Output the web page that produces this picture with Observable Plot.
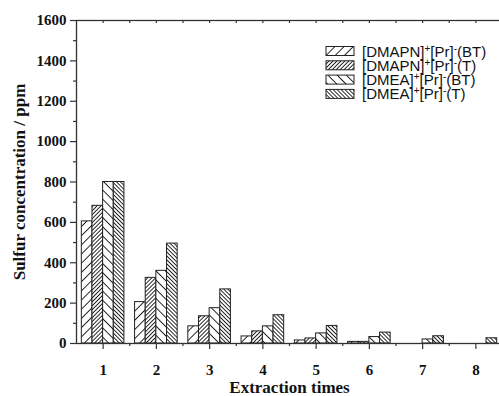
<!DOCTYPE html>
<html>
<head>
<meta charset="utf-8">
<script src="https://cdn.jsdelivr.net/npm/d3@7"></script>
<script src="https://cdn.jsdelivr.net/npm/@observablehq/plot@0.6"></script>
<style>
  html, body { margin: 0; padding: 0; background: #fff; overflow: hidden; }
  #chart { width: 499px; height: 396px; overflow: hidden; }
  #chart svg { max-width: none !important; }
</style>
</head>
<body>
<div id="chart"></div>
<script>
// ---- data ----
const extractionTimes = [1, 2, 3, 4, 5, 6, 7, 8];
const xMinorTicks = [1.5, 2.5, 3.5, 4.5, 5.5, 6.5, 7.5];
const yTicks = [0, 200, 400, 600, 800, 1000, 1200, 1400, 1600];
const yMinorTicks = [100, 300, 500, 700, 900, 1100, 1300, 1500];

const seriesLabels = [
  ["[DMAPN]", "+", "[Pr]", "-", "(BT)"],
  ["[DMAPN]", "+", "[Pr]", "-", "(T)"],
  ["[DMEA]", "+", "[Pr]", "-", "(BT)"],
  ["[DMEA]", "+", "[Pr]", "-", "(T)"]
];
const dmapnBT = [605, 205, 85, 35, 15, 8, 0, 0];
const dmapnT  = [682, 325, 135, 60, 25, 8, 0, 0];
const dmeaBT  = [800, 360, 175, 85, 50, 32, 20, 0];
const dmeaT   = [800, 495, 268, 140, 87, 54, 36, 26];

const xTitle = "Extraction times";
const yTitle = "Sulfur concentration / ppm";

// ---- build table ----
const seriesValues = [dmapnBT, dmapnT, dmeaBT, dmeaT];
const groupWidth = 0.8;
const barW = groupWidth / seriesValues.length;
const rows = seriesValues.flatMap((vals, s) =>
  vals.map((v, j) => ({t: extractionTimes[j], s, v}))
);

const serif = "'Liberation Serif','Times New Roman',Times,serif";
const ink = "#111";
const axisColor = "#333";

const barMarks = seriesValues.map((_, s) =>
  Plot.rectY(rows.filter(d => d.s === s && d.v > 0), {
    x1: d => d.t - groupWidth / 2 + d.s * barW,
    x2: d => d.t - groupWidth / 2 + (d.s + 1) * barW,
    y1: 0,
    y2: "v",
    fill: `url(#hatch${s})`,
    stroke: "#222",
    strokeWidth: 1
  })
);

const plot = Plot.plot({
  width: 502,
  height: 396,
  marginLeft: 76,
  marginRight: 0,
  marginTop: 20,
  marginBottom: 53,
  x: {domain: [0.5, 8.5], axis: null},
  y: {domain: [0, 1600], axis: null},
  style: {background: "white", maxWidth: "none", overflow: "visible"},
  marks: [
    ...barMarks,
    Plot.frame({stroke: axisColor, strokeWidth: 1.3}),
    // bottom ticks (outward)
    Plot.ruleX(extractionTimes, {x: d => d, y1: 0, y2: 0, insetBottom: -6, stroke: axisColor, strokeWidth: 1.2}),
    Plot.ruleX(xMinorTicks, {x: d => d, y1: 0, y2: 0, insetBottom: -3, stroke: axisColor, strokeWidth: 1.2}),
    // top ticks (inward)
    Plot.ruleX(extractionTimes.concat(xMinorTicks), {x: d => d, y1: 1600, y2: 1600, insetBottom: -3, stroke: axisColor, strokeWidth: 1.2}),
    // left ticks (outward)
    Plot.ruleY(yTicks, {y: d => d, x1: 0.5, x2: 0.5, insetLeft: -6, stroke: axisColor, strokeWidth: 1.2}),
    Plot.ruleY(yMinorTicks, {y: d => d, x1: 0.5, x2: 0.5, insetLeft: -3, stroke: axisColor, strokeWidth: 1.2}),
    // tick labels
    Plot.text(yTicks, {y: d => d, text: d => String(d), frameAnchor: "left", textAnchor: "end", dx: -10,
      fontFamily: serif, fontWeight: "bold", fontSize: 15, fill: ink}),
    Plot.text(extractionTimes, {x: d => d, text: d => String(d), frameAnchor: "bottom", dy: 27, lineAnchor: "middle",
      fontFamily: serif, fontWeight: "bold", fontSize: 15, fill: ink}),
    // titles
    Plot.text([xTitle], {text: d => d, frameAnchor: "bottom", dy: 44, lineAnchor: "middle", textAnchor: "middle",
      fontFamily: serif, fontWeight: "bold", fontSize: 17, fill: ink}),
    Plot.text([yTitle], {text: d => d, frameAnchor: "left", dx: -57, rotate: -90, lineAnchor: "middle", textAnchor: "middle",
      fontFamily: serif, fontWeight: "bold", fontSize: 17, fill: ink})
  ]
});

// ---- hatch patterns ----
const svg = d3.select(plot);
const defs = svg.insert("defs", ":first-child");
const hatchSpecs = [
  {angle: 45, gap: 6.5},
  {angle: 45, gap: 2.8},
  {angle: -45, gap: 6.5},
  {angle: -45, gap: 2.8}
];
hatchSpecs.forEach((h, i) => {
  const p = defs.append("pattern")
    .attr("id", `hatch${i}`)
    .attr("patternUnits", "userSpaceOnUse")
    .attr("width", h.gap)
    .attr("height", h.gap)
    .attr("patternTransform", `rotate(${h.angle})`);
  p.append("rect").attr("width", h.gap).attr("height", h.gap).attr("fill", "white");
  p.append("line")
    .attr("x1", h.gap / 2).attr("x2", h.gap / 2)
    .attr("y1", -1).attr("y2", h.gap + 1)
    .attr("stroke", "#111").attr("stroke-width", 0.9);
});

// ---- legend ----
const lg = svg.append("g")
  .attr("font-family", "'Liberation Sans',Arial,Helvetica,sans-serif")
  .attr("font-weight", "normal")
  .attr("text-anchor", "start")
  .attr("fill", ink);
seriesLabels.forEach((parts, i) => {
  const cy = 51 + i * 14.3;
  lg.append("rect")
    .attr("x", 326).attr("y", cy - 4.5)
    .attr("width", 28).attr("height", 9)
    .attr("fill", `url(#hatch${i})`)
    .attr("stroke", "#222").attr("stroke-width", 1);
  const t = lg.append("text").attr("x", 362).attr("y", cy + 5.5).attr("font-size", 15);
  parts.forEach((part, k) => {
    const sup = k % 2 === 1;
    t.append("tspan")
      .attr("dy", sup ? -5 : (k > 0 ? 5 : 0))
      .attr("font-size", sup ? 10 : 15)
      .text(part);
  });
});

document.getElementById("chart").appendChild(plot);
</script>
</body>
</html>
